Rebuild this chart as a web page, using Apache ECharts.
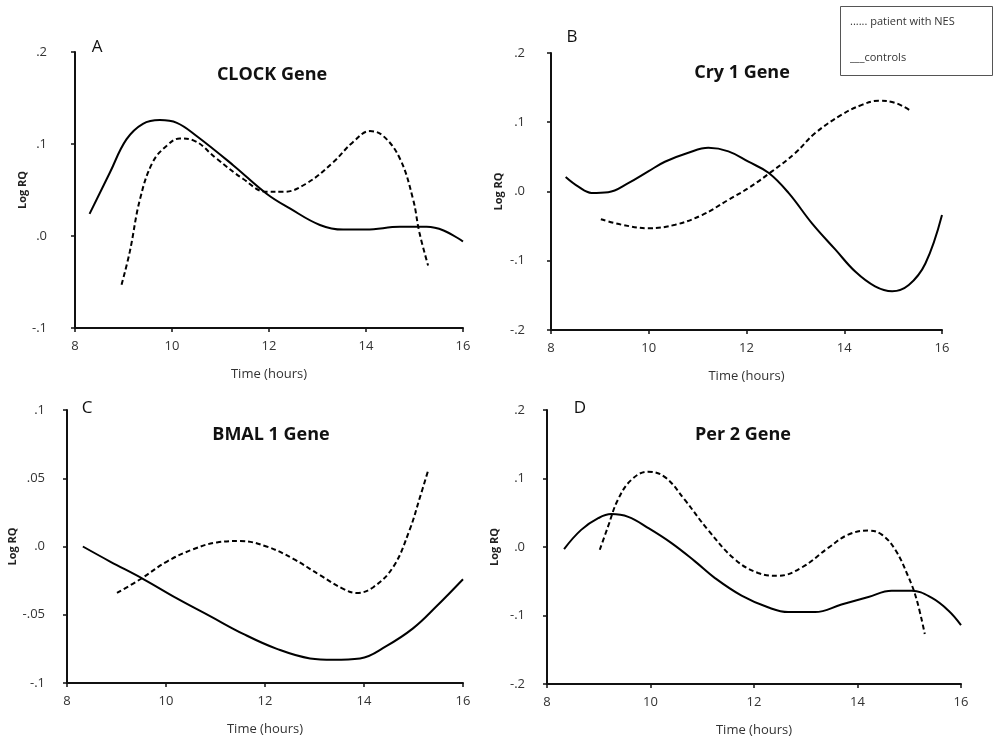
<!DOCTYPE html>
<html>
<head>
<meta charset="utf-8">
<title>Clock genes</title>
<script src="https://cdn.jsdelivr.net/npm/echarts@6/dist/echarts.min.js"></script>
<style>
	html, body { margin: 0; padding: 0; background: #fff; }
	#main { width: 995px; height: 738px; }
</style>
</head>
<body>
<div id="main"></div>
<script>
// 横轴刻度
var hourTicks = [8, 10, 12, 14, 16];

// A: CLOCK
var clockCtrlHours = [8.3, 8.72, 9.06, 9.4, 9.75, 10.1, 10.5, 11.26, 11.95, 12.43, 13.05, 13.53, 14.0, 14.7, 15.25, 15.6, 16];
var clockCtrl = [0.024, 0.069, 0.105, 0.122, 0.126, 0.123, 0.109, 0.077, 0.046, 0.030, 0.012, 0.007, 0.007, 0.010, 0.010, 0.006, -0.006];
var clockNesHours = [8.96, 9.13, 9.34, 9.6, 9.89, 10.16, 10.44, 10.92, 11.47, 11.95, 12.3, 12.77, 13.32, 13.73, 14.08, 14.35, 14.7, 14.97, 15.1, 15.28];
var clockNes = [-0.053, -0.017, 0.040, 0.080, 0.098, 0.106, 0.104, 0.084, 0.062, 0.048, 0.048, 0.057, 0.080, 0.102, 0.114, 0.109, 0.084, 0.040, 0.004, -0.032];

// B: Cry 1
var cryCtrlHours = [8.3, 8.56, 8.83, 9.17, 9.58, 9.99, 10.33, 10.81, 11.22, 11.63, 12.04, 12.45, 12.86, 13.34, 13.82, 14.23, 14.63, 14.98, 15.32, 15.66, 16];
var cryCtrl = [0.021, 0.007, -0.002, -0.001, 0.012, 0.029, 0.043, 0.056, 0.063, 0.058, 0.043, 0.027, -0.002, -0.046, -0.084, -0.116, -0.137, -0.144, -0.135, -0.104, -0.034];
var cryNesHours = [9.02, 9.45, 9.99, 10.54, 11.09, 11.63, 12.04, 12.52, 12.99, 13.4, 13.95, 14.36, 14.7, 15.04, 15.35];
var cryNes = [-0.040, -0.048, -0.053, -0.048, -0.034, -0.012, 0.005, 0.029, 0.055, 0.084, 0.111, 0.125, 0.131, 0.128, 0.117];

// C: BMAL 1
var bmalCtrlHours = [8.32, 8.87, 9.55, 10.22, 10.89, 11.56, 12.24, 12.91, 13.38, 13.92, 14.45, 14.99, 15.46, 16];
var bmalCtrl = [0.0, -0.011, -0.024, -0.038, -0.051, -0.064, -0.075, -0.082, -0.083, -0.082, -0.073, -0.060, -0.044, -0.024];
var bmalNesHours = [9.01, 9.48, 10.02, 10.55, 11.03, 11.5, 12.03, 12.57, 13.11, 13.58, 13.85, 14.18, 14.59, 14.92, 15.13, 15.29];
var bmalNes = [-0.034, -0.024, -0.011, -0.002, 0.003, 0.004, 0.0, -0.009, -0.021, -0.031, -0.034, -0.030, -0.015, 0.012, 0.036, 0.055];

// D: Per 2
var perCtrlHours = [8.33, 8.66, 8.99, 9.24, 9.57, 9.95, 10.4, 10.86, 11.24, 11.76, 12.27, 12.66, 13.18, 13.69, 14.21, 14.66, 15.05, 15.43, 15.76, 16];
var perCtrl = [-0.003, 0.025, 0.042, 0.048, 0.044, 0.028, 0.006, -0.021, -0.045, -0.071, -0.088, -0.095, -0.095, -0.084, -0.073, -0.064, -0.064, -0.074, -0.093, -0.114];
var perNesHours = [9.02, 9.18, 9.37, 9.63, 9.95, 10.28, 10.66, 11.11, 11.63, 12.08, 12.47, 12.92, 13.44, 13.82, 14.21, 14.47, 14.73, 14.98, 15.14, 15.3];
var perNes = [-0.004, 0.030, 0.069, 0.098, 0.110, 0.102, 0.069, 0.025, -0.018, -0.038, -0.042, -0.030, -0.001, 0.018, 0.024, 0.018, -0.004, -0.043, -0.076, -0.127];

var font = 'Open Sans';

function zip(xs, ys) {
	var out = [];
	for (var i = 0; i < xs.length; i++) {
		out.push([xs[i], ys[i]]);
	}
	return out;
}

// .2 / -.1 / .05 样式
function fmtY(v) {
	var r = Math.round(v * 1000) / 1000;
	if (r === 0) return '.0';
	var s = String(Math.abs(r)).replace(/^0/, '');
	return (r < 0 ? '-' : '') + s;
}

var panels = [
	{ grid: { left: 75, top: 52, width: 388, height: 276 }, min: -0.1, max: 0.2, step: 0.1, yMargin: 28, ctrl: zip(clockCtrlHours, clockCtrl), nes: zip(clockNesHours, clockNes) },
	{ grid: { left: 551, top: 53, width: 391, height: 277 }, min: -0.2, max: 0.2, step: 0.1, yMargin: 26, ctrl: zip(cryCtrlHours, cryCtrl), nes: zip(cryNesHours, cryNes) },
	{ grid: { left: 67, top: 410, width: 396, height: 273 }, min: -0.1, max: 0.1, step: 0.05, yMargin: 22, ctrl: zip(bmalCtrlHours, bmalCtrl), nes: zip(bmalNesHours, bmalNes) },
	{ grid: { left: 547, top: 410, width: 414, height: 275 }, min: -0.2, max: 0.2, step: 0.1, yMargin: 22, ctrl: zip(perCtrlHours, perCtrl), nes: zip(perNesHours, perNes) }
];

var axisLine = { show: true, onZero: false, lineStyle: { color: '#111', width: 2 } };
var axisTick = { show: true, length: 4, lineStyle: { color: '#111', width: 1.5 } };
var labelStyle = { color: '#333', fontSize: 13, fontFamily: font };

var option = {
	backgroundColor: '#fff',
	animation: false,
	grid: [],
	xAxis: [],
	yAxis: [],
	series: [],
	graphic: []
};

panels.forEach(function (p, i) {
	option.grid.push(p.grid);
	option.xAxis.push({
		type: 'value',
		gridIndex: i,
		min: hourTicks[0],
		max: hourTicks[hourTicks.length - 1],
		interval: 2,
		name: 'Time (hours)',
		nameLocation: 'middle',
		nameGap: 40,
		nameTextStyle: { color: '#333', fontSize: 13, fontFamily: font },
		axisLine: axisLine,
		axisTick: axisTick,
		axisLabel: Object.assign({ margin: 12 }, labelStyle),
		splitLine: { show: false }
	});
	option.yAxis.push({
		type: 'value',
		gridIndex: i,
		min: p.min,
		max: p.max,
		interval: p.step,
		name: 'Log RQ',
		nameLocation: 'middle',
		nameGap: 47,
		nameTextStyle: { color: '#222', fontSize: 11, fontWeight: 'bold', fontFamily: font },
		axisLine: axisLine,
		axisTick: axisTick,
		axisLabel: Object.assign({ margin: p.yMargin, formatter: fmtY }, labelStyle),
		splitLine: { show: false }
	});
	option.series.push({
		type: 'line',
		name: 'controls',
		xAxisIndex: i,
		yAxisIndex: i,
		data: p.ctrl,
		smooth: 0.4,
		symbol: 'none',
		lineStyle: { color: '#000', width: 2 }
	});
	option.series.push({
		type: 'line',
		name: 'patient with NES',
		xAxisIndex: i,
		yAxisIndex: i,
		data: p.nes,
		smooth: 0.4,
		symbol: 'none',
		lineStyle: { color: '#000', width: 2, type: [5, 3] }
	});
});

// 标题与字母
var titles = [
	{ text: 'CLOCK Gene', x: 272, y: 75 },
	{ text: 'Cry 1 Gene', x: 742, y: 73 },
	{ text: 'BMAL 1 Gene', x: 271, y: 435 },
	{ text: 'Per 2 Gene', x: 743, y: 435 }
];
var letters = [
	{ text: 'A', x: 97, y: 47 },
	{ text: 'B', x: 572, y: 37 },
	{ text: 'C', x: 87, y: 408 },
	{ text: 'D', x: 580, y: 408 }
];

titles.forEach(function (t) {
	option.graphic.push({
		type: 'text', x: t.x, y: t.y,
		style: { text: t.text, fill: '#111', font: 'bold 18px "Open Sans"', textAlign: 'center', textVerticalAlign: 'middle' }
	});
});
letters.forEach(function (t) {
	option.graphic.push({
		type: 'text', x: t.x, y: t.y,
		style: { text: t.text, fill: '#111', font: '17px "Open Sans"', textAlign: 'center', textVerticalAlign: 'middle' }
	});
});

// 图例框
option.graphic.push({
	type: 'rect',
	shape: { x: 840.5, y: 6.5, width: 152, height: 69 },
	style: { fill: '#fff', stroke: '#555', lineWidth: 1 }
});
option.graphic.push({
	type: 'text', x: 850, y: 22,
	style: { text: '...... patient with NES', fill: '#333', font: '11px "Open Sans"', textVerticalAlign: 'middle' }
});
option.graphic.push({
	type: 'text', x: 850, y: 58,
	style: { text: '___controls', fill: '#333', font: '11px "Open Sans"', textVerticalAlign: 'middle' }
});

var chart = echarts.init(document.getElementById('main'));
chart.setOption(option);
</script>
</body>
</html>
